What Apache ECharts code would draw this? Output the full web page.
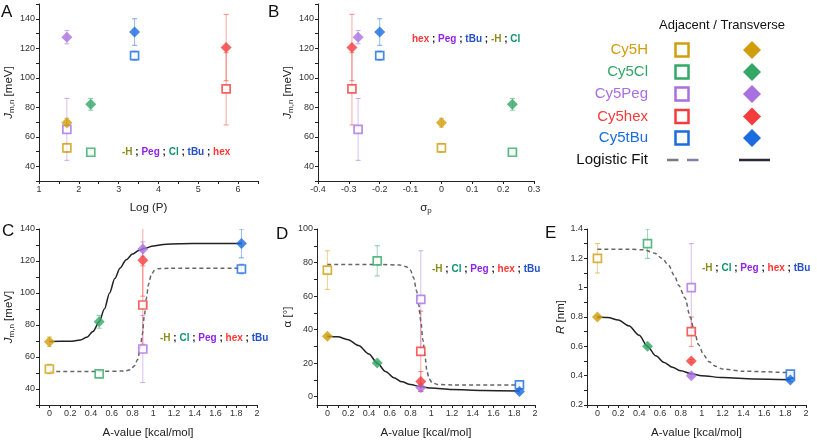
<!DOCTYPE html>
<html><head><meta charset="utf-8">
<script src="https://cdn.jsdelivr.net/npm/echarts@6/dist/echarts.min.js"></script>
<style>html,body{margin:0;padding:0;background:#fff}#c{width:817px;height:440px}</style>
</head><body><div id="c"></div>
<script>
// ---------------- data ----------------
const compounds = ['Cy5H', 'Cy5Cl', 'Cy5Peg', 'Cy5hex', 'Cy5tBu'];
const logP   = [1.7, 2.3, 1.7, 5.7, 3.4];
const sigmaP = [0, 0.23, -0.27, -0.29, -0.20];
const aValue = [0, 0.48, 0.9, 0.9, 1.85];

const jAdj      = [52.5, 49.5, 65, 92.5, 115];
const jAdjErr   = [3, 1.5, 21, 24.5, 3];
const jTrans    = [69.5, 82, 127.5, 120.5, 131];
const jTransErr = [3, 4, 4.5, 22.5, 9];

const alphaAdj      = [75.5, 81, 58, 27, 7];
const alphaAdjErr   = [11.5, 9, 29, 24, 1];
const alphaTrans    = [36, 20, 5.5, 9, 3];
const alphaTransErr = [1, 1, 2, 6, 1];

const rAdj      = [1.2, 1.3, 1.0, 0.7, 0.41];
const rAdjErr   = [0.1, 0.1, 0.3, 0.1, 0.01];
const rTrans    = [0.8, 0.6, 0.4, 0.5, 0.37];
const rTransErr = [0.01, 0.01, 0.01, 0.01, 0.01];

// logistic fit curves
const fitJTrans = [[0,69.7],[0.2,69.8],[0.3,70.6],[0.36,72.3],[0.42,76],[0.48,82],[0.53,90],[0.58,100],[0.63,109],[0.68,115.5],[0.74,120.8],[0.8,124.3],[0.86,126.5],[0.92,128],[1.0,129.4],[1.1,130.3],[1.25,130.8],[1.5,131],[1.85,131]];
const fitJAdj = [[0,51],[0.5,51],[0.72,51.2],[0.78,52],[0.82,54.5],[0.85,58.5],[0.875,65],[0.895,74],[0.915,86],[0.935,97],[0.955,105.5],[0.98,111],[1.01,114],[1.05,115.2],[1.15,115.5],[1.85,115.5]];
const fitAlphaTrans = [[0,36],[0.1,35.7],[0.2,34],[0.3,30.5],[0.4,25.5],[0.48,20],[0.56,15],[0.64,11.3],[0.72,8.8],[0.8,7.2],[0.9,5.9],[1.0,5.1],[1.2,4.2],[1.5,3.7],[1.85,3.4]];
const fitAlphaAdj = [[0,78.8],[0.5,78.8],[0.7,78.5],[0.76,77.5],[0.8,75.5],[0.83,71],[0.86,63],[0.88,55],[0.9,45],[0.92,34],[0.94,24],[0.96,15],[0.98,10.5],[1.01,8.2],[1.06,7.3],[1.2,7],[1.85,7]];
const fitRTrans = [[0,0.8],[0.1,0.797],[0.2,0.78],[0.3,0.74],[0.4,0.675],[0.48,0.6],[0.56,0.535],[0.64,0.49],[0.72,0.457],[0.8,0.433],[0.9,0.413],[1.0,0.4],[1.2,0.387],[1.5,0.378],[1.85,0.373]];
const fitRAdj = [[0,1.262],[0.3,1.262],[0.45,1.258],[0.55,1.235],[0.62,1.2],[0.68,1.155],[0.74,1.08],[0.78,1.015],[0.84,0.93],[0.89,0.8],[0.93,0.7],[0.97,0.61],[1.02,0.54],[1.07,0.495],[1.13,0.465],[1.2,0.445],[1.4,0.43],[1.85,0.42]];

// tick labels / tick marks
const labLogP  = [1, 2, 3, 4, 5, 6];
const tickLogP = [1, 1.5, 2, 2.5, 3, 3.5, 4, 4.5, 5, 5.5, 6, 6.5];
const labJ     = [40, 60, 80, 100, 120, 140];
const tickJ    = [30, 40, 50, 60, 70, 80, 90, 100, 110, 120, 130, 140, 150];
const labSigma = [-0.4, -0.3, -0.2, -0.1, 0, 0.1, 0.2, 0.3];
const labA     = [0, 0.2, 0.4, 0.6, 0.8, 1, 1.2, 1.4, 1.6, 1.8, 2];
const tickA    = [-0.1, 0, 0.1, 0.2, 0.3, 0.4, 0.5, 0.6, 0.7, 0.8, 0.9, 1, 1.1, 1.2, 1.3, 1.4, 1.5, 1.6, 1.7, 1.8, 1.9, 2];
const labAlpha = [0, 20, 40, 60, 80, 100];
const tickAlpha= [0, 10, 20, 30, 40, 50, 60, 70, 80, 90, 100];
const labR     = [0.2, 0.4, 0.6, 0.8, 1, 1.2, 1.4];
const tickR    = [0.2, 0.3, 0.4, 0.5, 0.6, 0.7, 0.8, 0.9, 1, 1.1, 1.2, 1.3, 1.4];

// ---------------- style ----------------
const colors = ['#D09E0C', '#33A866', '#A970E0', '#F53C3C', '#1A6CE0'];
const FONT = 'Liberation Sans, Arial, sans-serif';

const grids = [
  {left: 39, top: 4, width: 219, height: 177},
  {left: 318, top: 4, width: 216, height: 177},
  {left: 39, top: 229, width: 218, height: 177},
  {left: 317, top: 229, width: 218, height: 177},
  {left: 587, top: 229, width: 219, height: 177}
];

const nameRichBase = {
  t: {fontSize: 11.5, fontFamily: FONT, color: '#222', lineHeight: 14},
  i: {fontSize: 11.5, fontFamily: FONT, color: '#222', fontStyle: 'italic', lineHeight: 14},
  s: {fontSize: 8, fontFamily: FONT, color: '#222', lineHeight: 8, verticalAlign: 'bottom'}
};

function mkAxis(gi, min, max, labs, ticks, name, gap, isY) {
  return {
    type: 'value', gridIndex: gi, min: min, max: max,
    name: name, nameLocation: 'middle', nameGap: gap,
    nameRotate: isY ? 90 : 0,
    nameTextStyle: {rich: nameRichBase, fontSize: 11.5, color: '#222', fontFamily: FONT},
    axisLine: {show: true, onZero: false, lineStyle: {color: '#222', width: 1}},
    axisTick: {show: true, length: 3, customValues: ticks, lineStyle: {color: '#222'}},
    axisLabel: {customValues: labs, fontSize: 9, color: '#333', fontFamily: FONT, margin: 4},
    splitLine: {show: false}
  };
}

const xAxes = [
  mkAxis(0, 1, 6.5, labLogP, tickLogP, '{t|Log (P)}', 20, false),
  mkAxis(1, -0.4, 0.3, labSigma, labSigma, '{t|σ}{s|p}', 20, false),
  mkAxis(2, -0.1, 2, labA, tickA, '{t|A-value [kcal/mol]}', 21, false),
  mkAxis(3, -0.1, 2, labA, tickA, '{t|A-value [kcal/mol]}', 21, false),
  mkAxis(4, -0.1, 2, labA, tickA, '{t|A-value [kcal/mol]}', 21, false)
];
const yAxes = [
  mkAxis(0, 30, 150, labJ, tickJ, '{i|J}{s|m,n}{t| [meV]}', 15, true),
  mkAxis(1, 30, 150, labJ, tickJ, '{i|J}{s|m,n}{t| [meV]}', 15, true),
  mkAxis(2, 30, 140, labJ, tickJ.filter(v => v <= 140), '{i|J}{s|m,n}{t| [meV]}', 15, true),
  mkAxis(3, -5, 100, labAlpha, tickAlpha, '{t|α [°]}', 15, true),
  mkAxis(4, 0.2, 1.4, labR, tickR, '{i|R}{t| [nm]}', 15, true)
];

function errSeries(gi, xs, ys, es) {
  return {
    type: 'custom', xAxisIndex: gi, yAxisIndex: gi, clip: true, z: 1, silent: true,
    data: xs.map((x, i) => [x, ys[i], es[i], i]),
    renderItem(params, api) {
      const x = api.value(0), y = api.value(1), e = api.value(2), c = colors[api.value(3)];
      const p1 = api.coord([x, y + e]), p2 = api.coord([x, y - e]);
      return {type: 'group', children: [
        {type: 'line', shape: {x1: p1[0], y1: p1[1], x2: p2[0], y2: p2[1]}, style: {stroke: c, lineWidth: 1, opacity: 0.45}},
        {type: 'line', shape: {x1: p1[0] - 2.5, y1: p1[1], x2: p1[0] + 2.5, y2: p1[1]}, style: {stroke: c, lineWidth: 1, opacity: 0.6}},
        {type: 'line', shape: {x1: p2[0] - 2.5, y1: p2[1], x2: p2[0] + 2.5, y2: p2[1]}, style: {stroke: c, lineWidth: 1, opacity: 0.6}}
      ]};
    }
  };
}
function adjSeries(gi, xs, ys) {
  return {
    type: 'scatter', xAxisIndex: gi, yAxisIndex: gi, symbol: 'rect', symbolSize: 8, z: 4, silent: true,
    data: xs.map((x, i) => ({value: [x, ys[i]], itemStyle: {color: '#fff', borderColor: colors[i], borderWidth: 1.7}}))
  };
}
function transSeries(gi, xs, ys) {
  return {
    type: 'scatter', xAxisIndex: gi, yAxisIndex: gi, symbol: 'diamond', symbolSize: 11, z: 4, silent: true,
    data: xs.map((x, i) => ({value: [x, ys[i]], itemStyle: {color: colors[i]}}))
  };
}
function fitSeries(gi, pts, dashed) {
  return {
    type: 'line', xAxisIndex: gi, yAxisIndex: gi, data: pts, showSymbol: false, symbol: 'none',
    smooth: 0.3, smoothMonotone: 'x', z: 3, silent: true,
    lineStyle: dashed ? {color: '#666', width: 1.5, type: [4, 3]} : {color: '#222', width: 1.5}
  };
}

const series = [];
const panels = [
  [logP, jAdj, jAdjErr, jTrans, jTransErr, null, null],
  [sigmaP, jAdj, jAdjErr, jTrans, jTransErr, null, null],
  [aValue, jAdj, jAdjErr, jTrans, jTransErr, fitJAdj, fitJTrans],
  [aValue, alphaAdj, alphaAdjErr, alphaTrans, alphaTransErr, fitAlphaAdj, fitAlphaTrans],
  [aValue, rAdj, rAdjErr, rTrans, rTransErr, fitRAdj, fitRTrans]
];
panels.forEach((p, gi) => {
  series.push(errSeries(gi, p[0], p[1], p[2]));
  series.push(errSeries(gi, p[0], p[3], p[4]));
  if (p[5]) series.push(fitSeries(gi, p[5], true));
  if (p[6]) series.push(fitSeries(gi, p[6], false));
  series.push(adjSeries(gi, p[0], p[1]));
  series.push(transSeries(gi, p[0], p[3]));
});

// ---------------- graphics: letters, annotations, legend ----------------
function annTok(col) { return {fontWeight: 'bold', fontSize: 10, fontFamily: FONT, fill: col}; }
const annRich = {
  h: annTok('#8C8C1E'), c: annTok('#0E9470'), p: annTok('#9222E6'),
  x: annTok('#FF3636'), b: annTok('#2450C8'), k: annTok('#111')
};
const tok = {'-H': 'h', 'Cl': 'c', 'Peg': 'p', 'hex': 'x', 'tBu': 'b'};
function annText(order) {
  return order.map(o => '{' + tok[o] + '|' + o + '}').join('{k| ; }');
}
const graphics = [];
function txt(x, y, text, style) {
  graphics.push({type: 'text', x: x, y: y, silent: true, style: Object.assign({text: text, fontFamily: FONT}, style)});
}
txt(122, 152, annText(['-H', 'Peg', 'Cl', 'tBu', 'hex']), {rich: annRich, verticalAlign: 'middle'});
txt(412, 39, annText(['hex', 'Peg', 'tBu', '-H', 'Cl']), {rich: annRich, verticalAlign: 'middle'});
txt(160, 338, annText(['-H', 'Cl', 'Peg', 'hex', 'tBu']), {rich: annRich, verticalAlign: 'middle'});
txt(432, 269, annText(['-H', 'Cl', 'Peg', 'hex', 'tBu']), {rich: annRich, verticalAlign: 'middle'});
txt(702, 268, annText(['-H', 'Cl', 'Peg', 'hex', 'tBu']), {rich: annRich, verticalAlign: 'middle'});

// panel letters
[['A', 1, 12], ['B', 268, 12], ['C', 2, 231], ['D', 276, 234], ['E', 545, 233]].forEach(l =>
  txt(l[1], l[2], l[0], {fontSize: 17, fill: '#111', verticalAlign: 'middle'}));

// legend
txt(722, 25, 'Adjacent / Transverse', {fontSize: 13, fill: '#111', align: 'center', verticalAlign: 'middle'});
const rowsY = [50, 72, 94, 116.5, 138];
compounds.forEach((name, i) => {
  const y = rowsY[i];
  txt(648, y, name, {fontSize: 15, fill: colors[i], align: 'right', verticalAlign: 'middle'});
  graphics.push({type: 'rect', silent: true, shape: {x: 675.5, y: y - 6.5, width: 13, height: 13},
    style: {fill: '#fff', stroke: colors[i], lineWidth: 2.5}});
  graphics.push({type: 'polygon', silent: true, shape: {points: [[752, y - 9], [761, y], [752, y + 9], [743, y]]},
    style: {fill: colors[i]}});
});
txt(648, 160, 'Logistic Fit', {fontSize: 15, fill: '#111', align: 'right', verticalAlign: 'middle'});
graphics.push({type: 'line', silent: true, shape: {x1: 667, y1: 160, x2: 678.5, y2: 160}, style: {stroke: '#7a7a7a', lineWidth: 2.5}});
graphics.push({type: 'line', silent: true, shape: {x1: 687, y1: 160, x2: 698.5, y2: 160}, style: {stroke: '#7f7fa8', lineWidth: 2.5}});
graphics.push({type: 'line', silent: true, shape: {x1: 739, y1: 160, x2: 770, y2: 160}, style: {stroke: '#2a2a38', lineWidth: 2.5}});

const chart = echarts.init(document.getElementById('c'), null, {renderer: 'canvas'});
chart.setOption({
  animation: false,
  backgroundColor: '#fff',
  textStyle: {fontFamily: FONT},
  grid: grids,
  xAxis: xAxes,
  yAxis: yAxes,
  series: series,
  graphic: graphics
});
</script></body></html>
